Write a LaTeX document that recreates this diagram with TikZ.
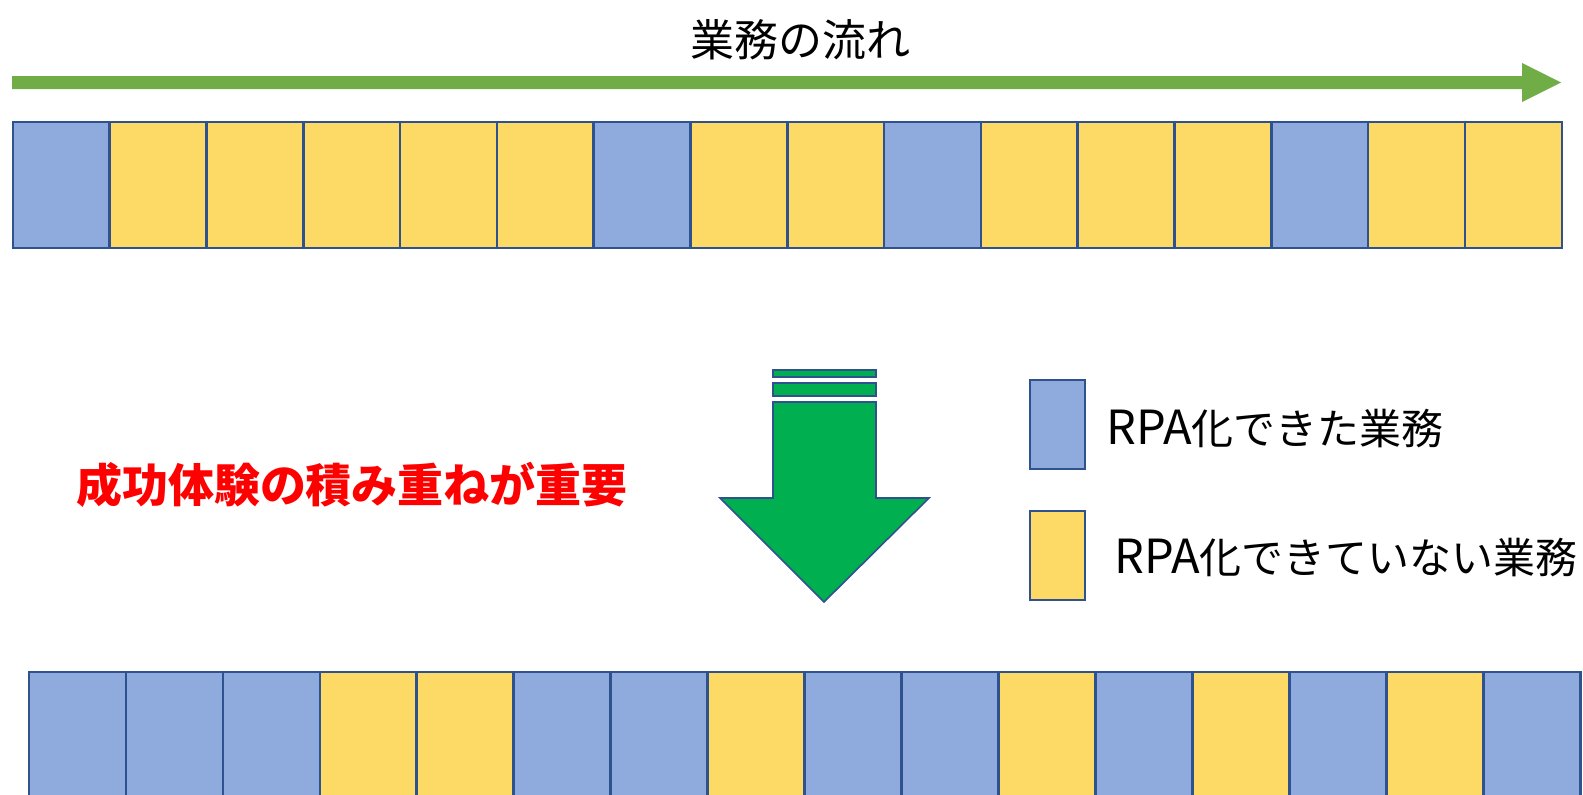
\documentclass[tikz,border=0pt]{standalone}
\usepackage{fontspec}
\setmainfont{Noto Sans CJK JP}
\definecolor{boxblue}{HTML}{8FAADC}
\definecolor{boxyellow}{HTML}{FDD966}
\definecolor{edgeblue}{HTML}{2F528F}
\definecolor{flowgreen}{HTML}{70AD47}
\definecolor{downgreen}{HTML}{00B050}
\definecolor{redtext}{HTML}{FF0000}
\newcommand{\rpa}{{\fontsize{47}{52}\selectfont RPA}}
\tikzset{
  cell/.style={draw=edgeblue, line width=2.6pt, minimum width=97pt, minimum height=126pt, inner sep=0pt, outer sep=0pt},
  bcell/.style={cell, fill=boxblue},
  ycell/.style={cell, fill=boxyellow},
  legendbox/.style={draw=edgeblue, line width=2pt, minimum width=55pt, minimum height=89pt, inner sep=0pt},
  label/.style={inner sep=0pt, font=\fontsize{42}{48}\selectfont, anchor=west},
}
\begin{document}
\begin{tikzpicture}[x=1pt,y=-1pt]
\useasboundingbox (0,0) rectangle (1583,795);
% title
\node[inner sep=0pt, font=\fontsize{44}{52}\selectfont] (title) at (800,40) {業務の流れ};
% flow arrow
\fill[flowgreen] (12,76) -- (1522,76) -- (1522,63) -- (1561,82.5) -- (1522,102) -- (1522,89) -- (12,89) -- cycle;
% top row
\foreach \c [count=\i] in {b,y,y,y,y,y,b,y,y,b,y,y,y,b,y,y}{
  \node[\c cell] (t\i) at ({13+96.8*(\i-0.5)},185) {};
}
% bottom row
\begin{scope}
\clip (0,0) rectangle (1583,795);
\foreach \c [count=\i] in {b,b,b,y,y,b,b,y,b,b,y,b,y,b,y,b}{
  \node[\c cell, minimum height=150pt, anchor=north] (u\i) at ({29+96.95*(\i-0.5)},672) {};
}
\end{scope}
% down arrow
\begin{scope}[draw=edgeblue, fill=downgreen, line width=1.6pt]
\filldraw (773,370) rectangle (876,377);
\filldraw (773,383) rectangle (876,396);
\filldraw (773,402) -- (876,402) -- (876,498) -- (929,498) -- (824,602) -- (720,498) -- (773,498) -- cycle;
\end{scope}
% red message
\node[inner sep=0pt, text=redtext, font=\fontsize{46}{54}\selectfont\bfseries] (msg) at (352,485) {成功体験の積み重ねが重要};
% legend
\node[legendbox, fill=boxblue] (lb) at (1057,424) {};
\node[legendbox, fill=boxyellow] (ly) at (1057.5,555) {};
\node[label] (lbt) at (1106,429) {\rpa 化できた業務};
\node[label] (lyt) at (1114,558) {\rpa 化できていない業務};
\end{tikzpicture}
\end{document}
